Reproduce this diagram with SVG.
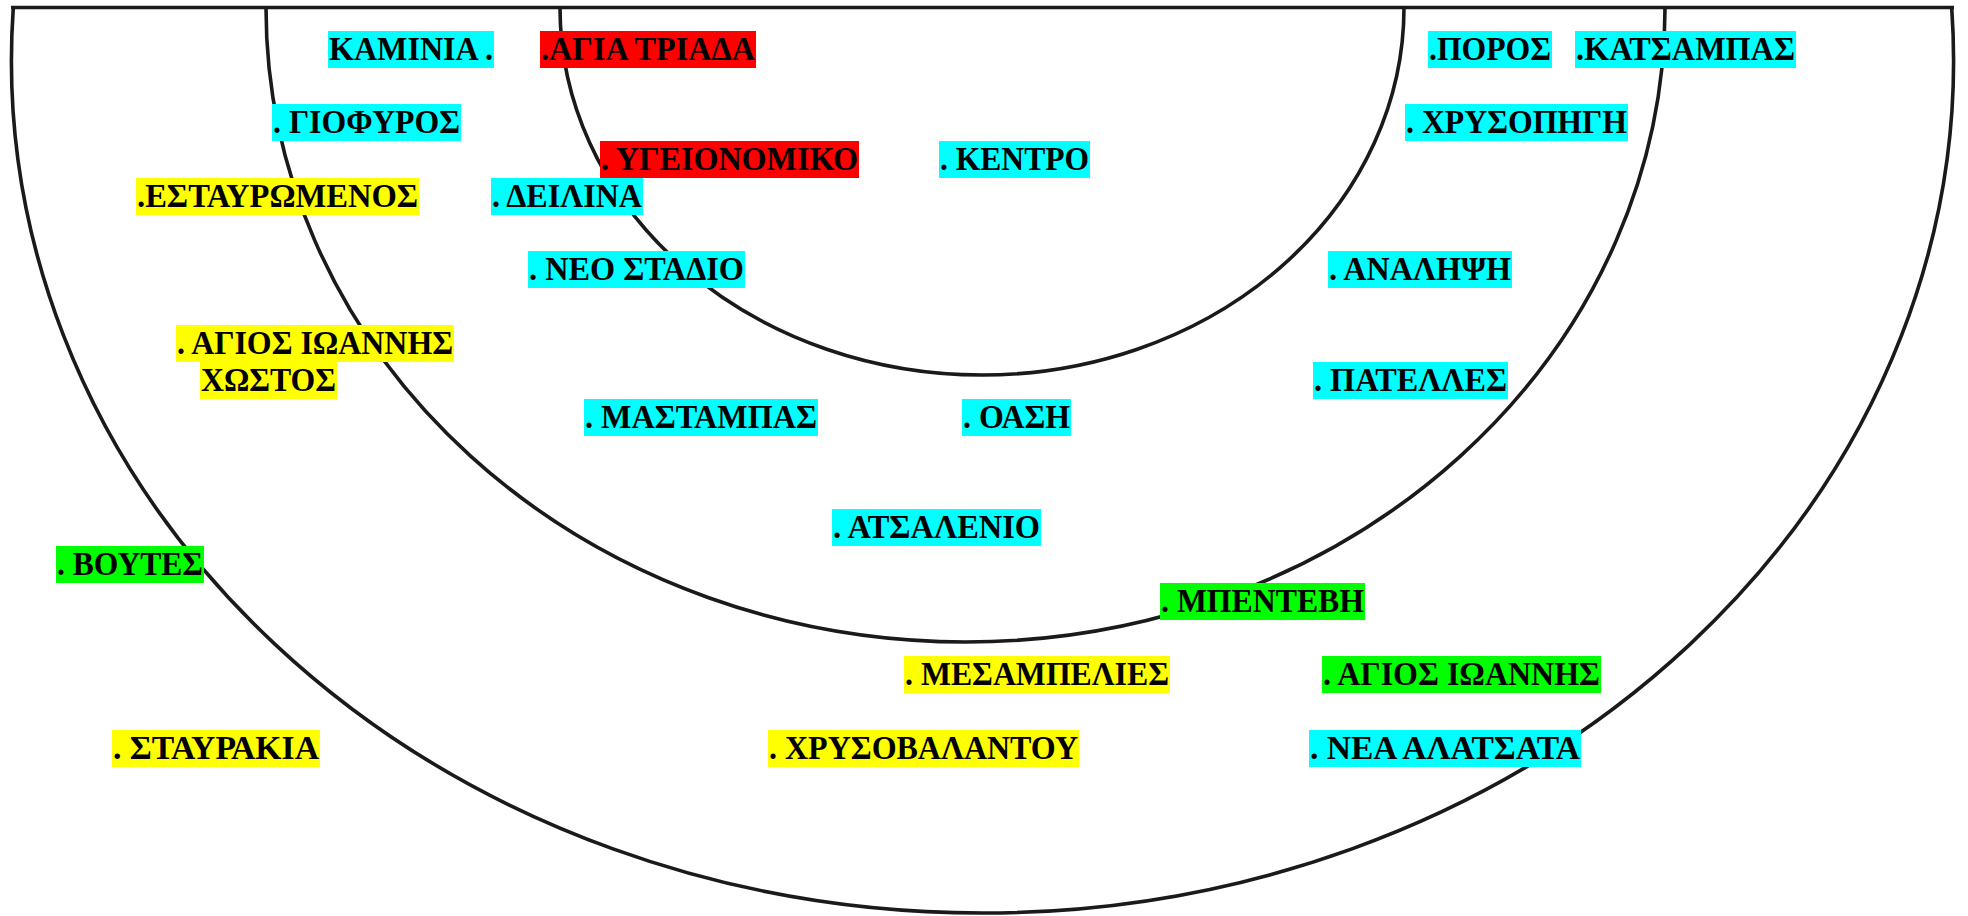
<svg xmlns="http://www.w3.org/2000/svg" width="1968" height="916" viewBox="0 0 1968 916">
<style>
.bg{fill:#ffffff}
.arc{fill:none;stroke:#1a1a1a;stroke-width:3.6}
.c{fill:#00ffff}.r{fill:#ff0000}.y{fill:#ffff00}.g{fill:#00ff00}
text{font-family:"Liberation Serif","Times New Roman",serif;font-weight:bold;font-size:33px;fill:#000000}
</style>
<rect class="bg" x="0" y="0" width="1968" height="916"/>
<g id="zones">
<path class="arc" d="M11 7.5 H1954"/>
<path class="arc" d="M13.3 7.5 A971 853 0 0 0 982.5 913 A971 853 0 0 0 1951.7 7.5"/>
<path class="arc" d="M266 8 A699.5 634 0 0 0 965.5 642 A699.5 634 0 0 0 1665 8"/>
<path class="arc" d="M560 7.5 A422 367.5 0 0 0 982 375 A422 367.5 0 0 0 1404 7.5"/>
</g>
<g id="connectors"></g>
<g id="kaminia"><rect class="c" x="328" y="31" width="166" height="37"/><text x="329" y="60" textLength="164" lengthAdjust="spacingAndGlyphs">ΚΑΜΙΝΙΑ .</text></g>
<g id="agia-triada"><rect class="r" x="540" y="31" width="216" height="37"/><text x="541" y="60" textLength="214" lengthAdjust="spacingAndGlyphs">.ΑΓΙΑ ΤΡΙΑΔΑ</text></g>
<g id="poros"><rect class="c" x="1428" y="31" width="124" height="37"/><text x="1429" y="60" textLength="122" lengthAdjust="spacingAndGlyphs">.ΠΟΡΟΣ</text></g>
<g id="katsampas"><rect class="c" x="1575" y="31" width="221" height="37"/><text x="1576" y="60" textLength="219" lengthAdjust="spacingAndGlyphs">.ΚΑΤΣΑΜΠΑΣ</text></g>
<g id="giofyros"><rect class="c" x="272" y="104" width="189" height="37"/><text x="273" y="133" textLength="187" lengthAdjust="spacingAndGlyphs">. ΓΙΟΦΥΡΟΣ</text></g>
<g id="chrysopigi"><rect class="c" x="1405" y="104" width="223" height="37"/><text x="1406" y="133" textLength="221" lengthAdjust="spacingAndGlyphs">. ΧΡΥΣΟΠΗΓΗ</text></g>
<g id="ygeionomiko"><rect class="r" x="600" y="141" width="259" height="37"/><text x="601" y="170" textLength="257" lengthAdjust="spacingAndGlyphs">. ΥΓΕΙΟΝΟΜΙΚΟ</text></g>
<g id="kentro"><rect class="c" x="939" y="141" width="151" height="37"/><text x="940" y="170" textLength="149" lengthAdjust="spacingAndGlyphs">. ΚΕΝΤΡΟ</text></g>
<g id="estavromenos"><rect class="y" x="136" y="178" width="283" height="37"/><text x="137" y="207" textLength="281" lengthAdjust="spacingAndGlyphs">.ΕΣΤΑΥΡΩΜΕΝΟΣ</text></g>
<g id="deilina"><rect class="c" x="491" y="178" width="152" height="37"/><text x="492" y="207" textLength="150" lengthAdjust="spacingAndGlyphs">. ΔΕΙΛΙΝΑ</text></g>
<g id="neo-stadio"><rect class="c" x="528" y="251" width="217" height="37"/><text x="529" y="280" textLength="215" lengthAdjust="spacingAndGlyphs">. ΝΕΟ ΣΤΑΔΙΟ</text></g>
<g id="analipsi"><rect class="c" x="1328" y="251" width="184" height="37"/><text x="1329" y="280" textLength="182" lengthAdjust="spacingAndGlyphs">. ΑΝΑΛΗΨΗ</text></g>
<g id="agios-ioannis-chostos"><rect class="y" x="176" y="325" width="278" height="37"/><rect class="y" x="200" y="362" width="137" height="37"/><text x="177" y="354" textLength="276" lengthAdjust="spacingAndGlyphs">. ΑΓΙΟΣ ΙΩΑΝΝΗΣ</text><text x="201" y="391" textLength="135" lengthAdjust="spacingAndGlyphs">ΧΩΣΤΟΣ</text></g>
<g id="patelles"><rect class="c" x="1313" y="362" width="195" height="37"/><text x="1314" y="391" textLength="193" lengthAdjust="spacingAndGlyphs">. ΠΑΤΕΛΛΕΣ</text></g>
<g id="mastampas"><rect class="c" x="584" y="399" width="234" height="37"/><text x="585" y="428" textLength="232" lengthAdjust="spacingAndGlyphs">. ΜΑΣΤΑΜΠΑΣ</text></g>
<g id="oasi"><rect class="c" x="962" y="399" width="109" height="37"/><text x="963" y="428" textLength="107" lengthAdjust="spacingAndGlyphs">. ΟΑΣΗ</text></g>
<g id="atsalenio"><rect class="c" x="832" y="509" width="209" height="37"/><text x="833" y="538" textLength="207" lengthAdjust="spacingAndGlyphs">. ΑΤΣΑΛΕΝΙΟ</text></g>
<g id="voutes"><rect class="g" x="56" y="546" width="148" height="37"/><text x="57" y="575" textLength="146" lengthAdjust="spacingAndGlyphs">. ΒΟΥΤΕΣ</text></g>
<g id="benteve"><rect class="g" x="1160" y="583" width="205" height="37"/><text x="1161" y="612" textLength="203" lengthAdjust="spacingAndGlyphs">. ΜΠΕΝΤΕΒΗ</text></g>
<g id="mesampelies"><rect class="y" x="904" y="656" width="266" height="37"/><text x="905" y="685" textLength="264" lengthAdjust="spacingAndGlyphs">. ΜΕΣΑΜΠΕΛΙΕΣ</text></g>
<g id="agios-ioannis"><rect class="g" x="1322" y="656" width="279" height="37"/><text x="1323" y="685" textLength="277" lengthAdjust="spacingAndGlyphs">. ΑΓΙΟΣ ΙΩΑΝΝΗΣ</text></g>
<g id="stavrakia"><rect class="y" x="112" y="730" width="208" height="37"/><text x="113" y="759" textLength="206" lengthAdjust="spacingAndGlyphs">. ΣΤΑΥΡΑΚΙΑ</text></g>
<g id="chrysovalantou"><rect class="y" x="768" y="730" width="311" height="37"/><text x="769" y="759" textLength="309" lengthAdjust="spacingAndGlyphs">. ΧΡΥΣΟΒΑΛΑΝΤΟΥ</text></g>
<g id="nea-alatsata"><rect class="c" x="1309" y="730" width="272" height="37"/><text x="1310" y="759" textLength="270" lengthAdjust="spacingAndGlyphs">. ΝΕΑ ΑΛΑΤΣΑΤΑ</text></g>
</svg>
